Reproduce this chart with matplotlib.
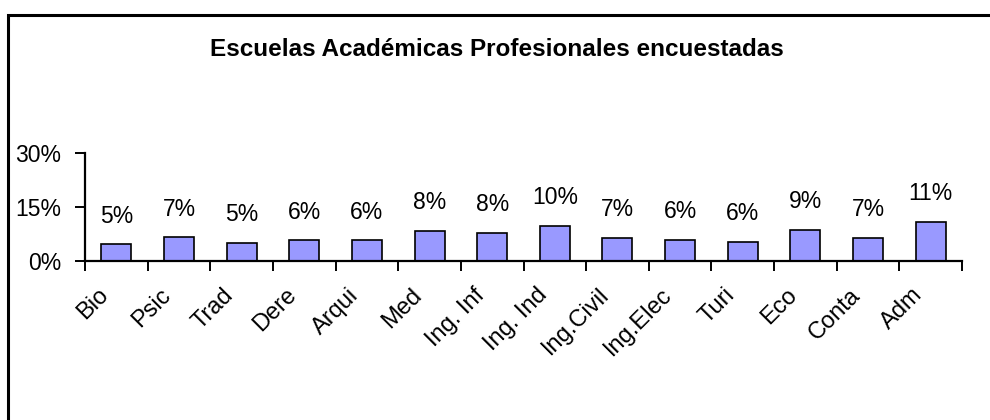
import matplotlib
matplotlib.use("Agg")
import matplotlib.pyplot as plt
from matplotlib.patches import Rectangle
from matplotlib.ticker import FixedLocator, NullFormatter
from matplotlib.transforms import ScaledTranslation

categories = ["Bio", "Psic", "Trad", "Dere", "Arqui", "Med", "Ing. Inf", "Ing. Ind",
              "Ing.Civil", "Ing.Elec", "Turi", "Eco", "Conta", "Adm"]
values = [4.6, 6.6, 5.0, 5.7, 5.7, 8.4, 7.8, 9.8, 6.5, 5.9, 5.4, 8.7, 6.5, 10.9]
labels = ["5%", "7%", "5%", "6%", "6%", "8%", "8%", "10%", "7%", "6%", "6%", "9%", "7%", "11%"]
yticks = [0, 15, 30]
ytick_labels = ["0%", "15%", "30%"]
title = "Escuelas Académicas Profesionales encuestadas"

plt.rcParams['font.family'] = ['Liberation Sans', 'DejaVu Sans']

W, H = 990, 420
fig = plt.figure(figsize=(W / 100, H / 100), dpi=100)
fig.patches.append(Rectangle((7.5 / W, -0.1), 1.2, (H - 15) / H + 0.1, transform=fig.transFigure,
                             fill=False, edgecolor='black', linewidth=2.2, zorder=0))

ax = fig.add_axes([85 / W, 1 - 261 / H, (962 - 85) / W, (261 - 153) / H])
x = list(range(len(categories)))
ax.bar(x, values, width=0.48, color='#9999FF', edgecolor='black', linewidth=1.2, zorder=2)
for xi, v, lab in zip(x, values, labels):
    ax.annotate(lab, (xi, v), xytext=(0, 12), textcoords='offset points',
                ha='center', va='bottom', fontsize=16.5)

ax.set_xlim(-0.5, len(categories) - 0.5)
ax.set_ylim(0, 30)
for s in ['top', 'right']:
    ax.spines[s].set_visible(False)
for s in ['left', 'bottom']:
    ax.spines[s].set_linewidth(1.6)
ax.set_yticks(yticks)
ax.set_yticklabels(ytick_labels, fontsize=16.5)
ax.tick_params(axis='y', length=7, width=1.4, pad=10)
ax.xaxis.set_major_locator(FixedLocator([i - 0.5 for i in range(len(categories) + 1)]))
ax.xaxis.set_major_formatter(NullFormatter())
ax.tick_params(axis='x', which='major', length=7, width=1.4, direction='out')

label_tr = ax.get_xaxis_transform() + ScaledTranslation(-19 / 100, -23 / 100, fig.dpi_scale_trans)
for xi, cat in zip(x, categories):
    ax.text(xi, 0, cat, transform=label_tr, rotation=45, ha='right', va='top',
            rotation_mode='anchor', fontsize=17)

fig.text(497 / W, 1 - 50 / H, title, ha='center', va='center', fontsize=17.5, fontweight='bold')

fig.savefig("out.png", dpi=100)
